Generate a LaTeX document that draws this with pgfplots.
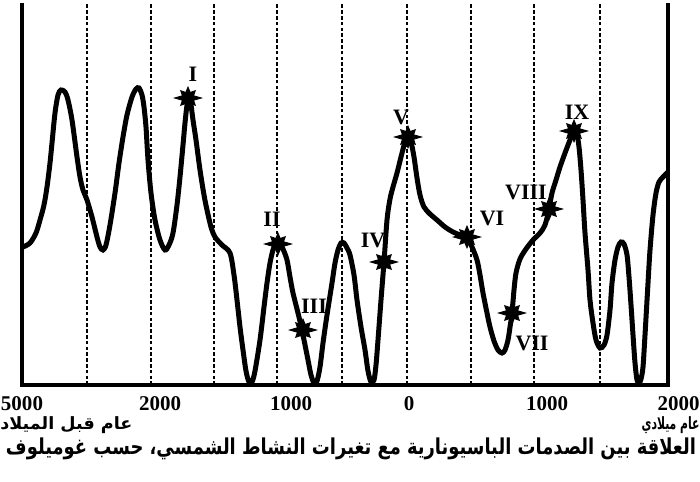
\documentclass[border=0pt]{standalone}
\usepackage{pgfplots}
\pgfplotsset{compat=1.18}
\usepackage{graphicx}
\usepackage{fontspec}
\setmainfont{Liberation Serif}
\newfontfamily\arabicfont[Script=Arabic]{DejaVu Sans}
\TeXXeTstate=1

% filled star burst used for the shocks
\pgfdeclareplotmark{burst}{%
  \pgfpathmoveto{\pgfqpointpolar{0}{1.3\pgfplotmarksize}}%
  \pgfpathlineto{\pgfqpointpolar{22.5}{0.58\pgfplotmarksize}}%
  \pgfpathlineto{\pgfqpointpolar{45}{\pgfplotmarksize}}%
  \pgfpathlineto{\pgfqpointpolar{67.5}{0.58\pgfplotmarksize}}%
  \pgfpathlineto{\pgfqpointpolar{90}{1.05\pgfplotmarksize}}%
  \pgfpathlineto{\pgfqpointpolar{112.5}{0.58\pgfplotmarksize}}%
  \pgfpathlineto{\pgfqpointpolar{135}{\pgfplotmarksize}}%
  \pgfpathlineto{\pgfqpointpolar{157.5}{0.58\pgfplotmarksize}}%
  \pgfpathlineto{\pgfqpointpolar{180}{1.3\pgfplotmarksize}}%
  \pgfpathlineto{\pgfqpointpolar{202.5}{0.58\pgfplotmarksize}}%
  \pgfpathlineto{\pgfqpointpolar{225}{\pgfplotmarksize}}%
  \pgfpathlineto{\pgfqpointpolar{247.5}{0.58\pgfplotmarksize}}%
  \pgfpathlineto{\pgfqpointpolar{270}{1.05\pgfplotmarksize}}%
  \pgfpathlineto{\pgfqpointpolar{292.5}{0.58\pgfplotmarksize}}%
  \pgfpathlineto{\pgfqpointpolar{315}{\pgfplotmarksize}}%
  \pgfpathlineto{\pgfqpointpolar{337.5}{0.58\pgfplotmarksize}}%
  \pgfpathclose
  \pgfusepathqfillstroke}

\begin{document}
\begin{tikzpicture}
\path[use as bounding box] (-11pt,-48pt) rectangle (339pt,192.5pt);
\begin{axis}[
    at={(0,0)}, anchor=south west,
    scale only axis, width=323pt, height=191pt,
    xmin=22, xmax=668, ymin=0, ymax=382,
    hide axis, clip=false
]
% vertical guide lines
\pgfplotsinvokeforeach{87,151,214,277,342,407,471,534,600}{
  \draw[line width=1.25pt, dash pattern=on 1.8pt off 1.1pt] (axis cs:#1,0) -- (axis cs:#1,382);
}
% frame: left, bottom, right
\draw[line width=2.2pt, line join=miter] (axis cs:22,382) -- (axis cs:22,0) -- (axis cs:668,0) -- (axis cs:668,382);

% solar activity curve
\addplot[black, line width=2.5pt, smooth, tension=0.5] coordinates {
(23,138) (30,142) (36,152) (40,165) (44,180) (47,198) (50,222) (52,242)
(55,272) (58,290) (61,295) (65,293) (68,285) (72,265) (77,228) (80,208)
(83,195) (87,185) (92,168) (97,148) (100,138) (103,135) (106,140) (110,160)
(115,192) (119,222) (123,248) (127,270) (132,288) (136,296) (139,297)
(142,290) (144,278) (146,258) (148,225) (151,192) (155,165) (160,145)
(165,135) (169,140) (173,152) (177,180) (180,208) (183,240) (185,262)
(187,280) (189,288) (191,280) (193,265) (196,245) (200,215) (204,190)
(207,175) (211,158) (215,148) (222,140) (230,132) (234,110) (237,85)
(240,58) (243,35) (246,14) (249,3) (252,3) (255,14) (260,45) (264,78)
(267,102) (270,122) (273,135) (276,141) (279,142) (283,136) (287,125)
(290,108) (293,92) (298,72) (302,55) (305,40) (308,25) (311,10) (314,2)
(317,4) (320,18) (323,42) (327,70) (332,102) (335,122) (338,135) (341,142)
(344,142) (347,137) (350,130) (354,110) (357,85) (361,58) (365,35)
(368,14) (371,3) (374,5) (376,20) (378,45) (381,85) (384,123) (387,165)
(390,186) (393,198) (397,212) (401,228) (405,243) (408,249) (411,243)
(414,228) (417,207) (420,190) (424,178) (430,171) (437,165) (445,158)
(453,153) (460,150) (467,147) (472,138) (477,125) (480,110) (483,92)
(487,72) (490,58) (494,44) (498,35) (502,32) (505,35) (508,45) (510,58)
(512,72) (514,95) (516,112) (520,126) (526,136) (533,145) (540,152)
(545,160) (549,176) (552,192) (556,205) (560,218) (565,232) (570,245)
(574,254) (577,250) (579,238) (581,215) (583,185) (585,152) (588,115)
(590,85) (593,62) (596,45) (600,37) (604,40) (607,50) (610,75) (612,102)
(615,125) (618,138) (621,143) (624,141) (627,130) (629,108) (631,80)
(633,50) (635,22) (637,5) (639,2) (641,6) (643,18) (645,50) (648,102)
(650,135) (653,170) (656,192) (659,203) (663,208) (668,213)
};

% passionary shocks
\addplot[only marks, black, mark=burst, mark size=5.2pt, mark options={fill=black}] coordinates {
(188,287) (278,141) (303,55) (384,123) (408,248) (467,148) (512,72) (549,176) (574,254)
};

\begin{scope}[font=\bfseries\fontsize{11}{11}\selectfont]
\node at (axis cs:193,311) {I};
\node at (axis cs:272,166) {II};
\node at (axis cs:314,79) {III};
\node at (axis cs:373,145) {IV};
\node at (axis cs:401,268) {V};
\node at (axis cs:492,167) {VI};
\node at (axis cs:532,42) {VII};
\node at (axis cs:526,193) {VIII};
\node at (axis cs:577,273) {IX};
\end{scope}

% time axis labels
\begin{scope}[font=\bfseries\fontsize{10.5}{10.5}\selectfont]
\node[anchor=base] at (axis cs:22,-25) {5000};
\node[anchor=base] at (axis cs:160,-25) {2000};
\node[anchor=base] at (axis cs:291,-25) {1000};
\node[anchor=base] at (axis cs:409,-25) {0};
\node[anchor=base] at (axis cs:547,-25) {1000};
\node[anchor=base east, inner xsep=0pt] at (axis cs:700,-25) {2000};
\end{scope}

\node[anchor=west, inner sep=0pt] at (axis cs:0,-40)
  {\resizebox*{66pt}{8.5pt}{\arabicfont\bfseries\beginR عام قبل الميلاد\endR}};
\node[anchor=east, inner sep=0pt] at (axis cs:700,-40)
  {\resizebox*{29pt}{8.5pt}{\arabicfont\bfseries\beginR عام ميلادي\endR}};
\node[inner sep=0pt] at (axis cs:351,-64)
  {\resizebox*{345pt}{11pt}{\arabicfont\bfseries\beginR العلاقة بين الصدمات الباسيونارية مع تغيرات النشاط الشمسي، حسب غوميلوف\endR}};
\end{axis}
\end{tikzpicture}
\end{document}
